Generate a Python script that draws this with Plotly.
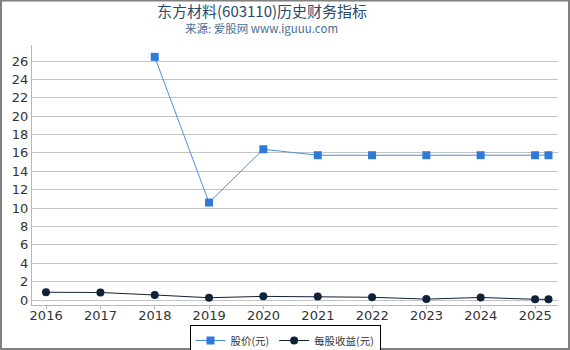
import plotly.graph_objects as go

dates = ["2015-12-31", "2016-12-31", "2017-12-31", "2018-12-31", "2019-12-31",
         "2020-12-31", "2021-12-31", "2022-12-31", "2023-12-31", "2024-12-31", "2025-03-31"]
price = [None, None, 26.45, 10.6, 16.4, 15.75, 15.75, 15.75, 15.75, 15.75, 15.75]
eps = [0.85, 0.82, 0.55, 0.25, 0.4, 0.38, 0.3, 0.1, 0.28, 0.08, 0.08]
ytick_vals = list(range(0, 27, 2))
xtick_vals = ["2016-01-01", "2017-01-01", "2018-01-01", "2019-01-01", "2020-01-01",
              "2021-01-01", "2022-01-01", "2023-01-01", "2024-01-01", "2025-01-01"]
xtick_text = ["2016", "2017", "2018", "2019", "2020", "2021", "2022", "2023", "2024", "2025"]

font = "DejaVu Sans, Noto Sans CJK SC, sans-serif"
cjk = "Noto Sans CJK SC, sans-serif"

fig = go.Figure()
fig.add_trace(go.Scatter(
    x=dates, y=price, name="股价(元)", mode="lines+markers",
    line=dict(color="#4a8fe3", width=1),
    marker=dict(symbol="square", size=8, color="#2f7ad8"),
    connectgaps=False,
))
fig.add_trace(go.Scatter(
    x=dates, y=eps, name="每股收益(元)", mode="lines+markers",
    line=dict(color="#0e2238", width=1),
    marker=dict(symbol="circle", size=8, color="#0e2238"),
))

W, H = 570, 350
ml, mr, mt, mb = 32, 12, 45, 45
pw, ph = W - ml - mr, H - mt - mb

def px(x):
    return (x - ml) / pw

def py(y):
    return (H - mb - y) / ph

fig.update_layout(
    width=W, height=H,
    margin=dict(l=ml, r=mr, t=mt, b=mb, autoexpand=False),
    paper_bgcolor="white", plot_bgcolor="white",
    font=dict(family=font, size=13, color="#333333"),
    showlegend=True,
    legend=dict(
        orientation="h", x=px(285), xanchor="center",
        yref="container", y=1 - 325 / H, yanchor="top",
        bordercolor="#000000", borderwidth=1,
        font=dict(family=cjk, size=10.5, color="#333333"),
        tracegroupgap=0, itemwidth=30,
    ),
    xaxis=dict(
        type="date",
        range=["2015-09-28", "2025-06-03"],
        tickvals=xtick_vals, ticktext=xtick_text,
        showgrid=False, showline=True, linecolor="#b8b8b8", linewidth=1,
        ticks="outside", ticklen=3, tickcolor="#b8b8b8",
        ticklabelstandoff=-5,
        tickfont=dict(size=13, color="#333333"),
        zeroline=False,
    ),
    yaxis=dict(
        range=[-0.54, 27.74],
        tickvals=ytick_vals,
        showgrid=True, gridcolor="#c4c4c4", gridwidth=1,
        showline=True, linecolor="#b8b8b8", linewidth=1,
        ticks="", ticklen=0,
        tickfont=dict(size=13, color="#333333"),
        zeroline=False,
    ),
    annotations=[
        dict(text="东方材料(603110)历史财务指标", xref="paper", yref="paper",
             x=px(262), y=py(10), xanchor="center", yanchor="middle", showarrow=False,
             font=dict(family=cjk, size=15, color="#2b4a6b")),
        dict(text="来源: 爱股网 www.iguuu.com", xref="paper", yref="paper",
             x=px(261), y=py(28), xanchor="center", yanchor="middle", showarrow=False,
             font=dict(family=cjk, size=11.5, color="#4a6d96")),
    ],
    shapes=[
        dict(type="rect", xref="paper", yref="paper",
             x0=px(1), x1=px(569), y0=py(349), y1=py(0.5),
             line=dict(color="#7f7f7f", width=2), fillcolor="rgba(0,0,0,0)", layer="below"),
    ],
)

fig.write_html("out.html")
